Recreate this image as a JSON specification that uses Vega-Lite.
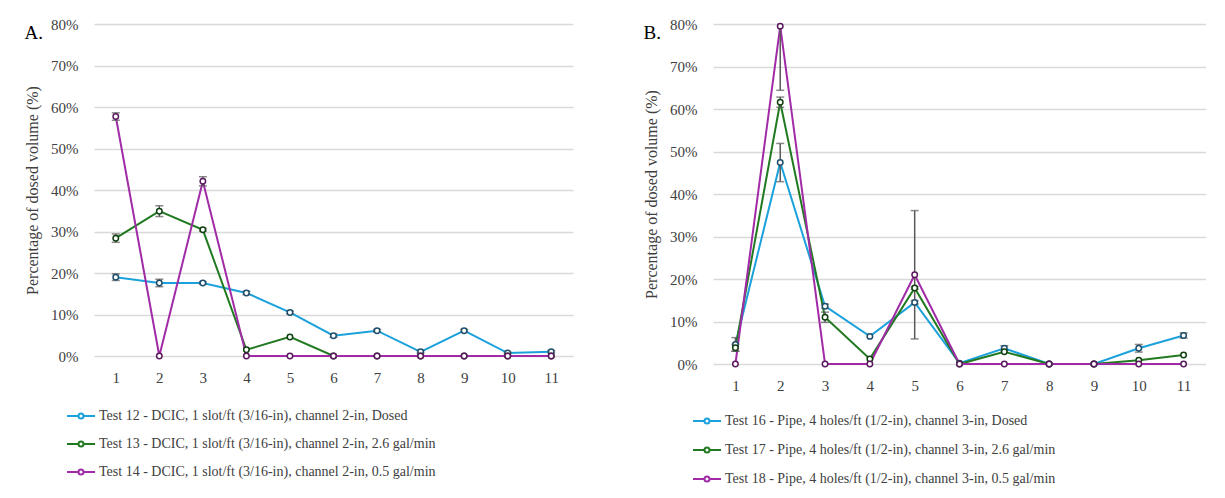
{
  "$schema": "https://vega.github.io/schema/vega-lite/v6.json",
  "background": "white",
  "padding": {"left": 24, "top": 17, "right": 0, "bottom": 0},
  "spacing": 70,
  "config": {
    "font": "Liberation Serif",
    "view": {"stroke": null},
    "axisY": {
      "values": [0, 10, 20, 30, 40, 50, 60, 70, 80],
      "labelExpr": "datum.value + '%'",
      "domain": false,
      "ticks": false,
      "labelPadding": 16,
      "gridColor": "#d9d9d9",
      "gridWidth": 1.5,
      "labelFont": "Liberation Serif",
      "labelFontSize": 15,
      "labelColor": "#404040",
      "titleFont": "Liberation Serif",
      "titleFontSize": 16,
      "titleFontWeight": "normal",
      "titleColor": "#404040",
      "titlePadding": 10
    },
    "axisX": {
      "labelAngle": 0,
      "domain": false,
      "ticks": false,
      "grid": false,
      "labelPadding": 14,
      "labelFont": "Liberation Serif",
      "labelFontSize": 15,
      "labelColor": "#404040"
    },
    "legend": {
      "orient": "none",
      "direction": "vertical",
      "symbolType": "M-1,0H-0.18M0.18,0H1M-0.18,0A0.18,0.18,0,1,1,0.18,0A0.18,0.18,0,1,1,-0.18,0",
      "symbolSize": 784,
      "symbolStrokeWidth": 2,
      "symbolFillColor": "white",
      "labelFont": "Liberation Serif",
      "labelFontSize": 14,
      "labelLimit": 700,
      "labelOffset": 3,
      "labelColor": "#404040",
      "padding": 0
    },
    "title": {"anchor": "start", "frame": "bounds", "font": "Liberation Serif", "fontSize": 19, "fontWeight": "normal", "color": "black", "offset": -26}
  },
  "datasets": {
    "a": [
      {"test": "Test 12 - DCIC, 1 slot/ft (3/16-in), channel 2-in, Dosed", "loc": 1, "v": 19.0, "err": 0.8},
      {"test": "Test 12 - DCIC, 1 slot/ft (3/16-in), channel 2-in, Dosed", "loc": 2, "v": 17.6, "err": 0.9},
      {"test": "Test 12 - DCIC, 1 slot/ft (3/16-in), channel 2-in, Dosed", "loc": 3, "v": 17.6, "err": 0.3},
      {"test": "Test 12 - DCIC, 1 slot/ft (3/16-in), channel 2-in, Dosed", "loc": 4, "v": 15.2, "err": 0.4},
      {"test": "Test 12 - DCIC, 1 slot/ft (3/16-in), channel 2-in, Dosed", "loc": 5, "v": 10.5, "err": 0.3},
      {"test": "Test 12 - DCIC, 1 slot/ft (3/16-in), channel 2-in, Dosed", "loc": 6, "v": 4.9, "err": 0.4},
      {"test": "Test 12 - DCIC, 1 slot/ft (3/16-in), channel 2-in, Dosed", "loc": 7, "v": 6.1, "err": 0.3},
      {"test": "Test 12 - DCIC, 1 slot/ft (3/16-in), channel 2-in, Dosed", "loc": 8, "v": 1.0, "err": 0.3},
      {"test": "Test 12 - DCIC, 1 slot/ft (3/16-in), channel 2-in, Dosed", "loc": 9, "v": 6.1, "err": 0.3},
      {"test": "Test 12 - DCIC, 1 slot/ft (3/16-in), channel 2-in, Dosed", "loc": 10, "v": 0.7, "err": 0.2},
      {"test": "Test 12 - DCIC, 1 slot/ft (3/16-in), channel 2-in, Dosed", "loc": 11, "v": 1.0, "err": 0.3},
      {"test": "Test 13 - DCIC, 1 slot/ft (3/16-in), channel 2-in, 2.6 gal/min", "loc": 1, "v": 28.4, "err": 1.0},
      {"test": "Test 13 - DCIC, 1 slot/ft (3/16-in), channel 2-in, 2.6 gal/min", "loc": 2, "v": 34.9, "err": 1.3},
      {"test": "Test 13 - DCIC, 1 slot/ft (3/16-in), channel 2-in, 2.6 gal/min", "loc": 3, "v": 30.4, "err": 0.3},
      {"test": "Test 13 - DCIC, 1 slot/ft (3/16-in), channel 2-in, 2.6 gal/min", "loc": 4, "v": 1.5, "err": 0},
      {"test": "Test 13 - DCIC, 1 slot/ft (3/16-in), channel 2-in, 2.6 gal/min", "loc": 5, "v": 4.6, "err": 0},
      {"test": "Test 13 - DCIC, 1 slot/ft (3/16-in), channel 2-in, 2.6 gal/min", "loc": 6, "v": 0, "err": 0},
      {"test": "Test 13 - DCIC, 1 slot/ft (3/16-in), channel 2-in, 2.6 gal/min", "loc": 7, "v": 0, "err": 0},
      {"test": "Test 13 - DCIC, 1 slot/ft (3/16-in), channel 2-in, 2.6 gal/min", "loc": 8, "v": 0, "err": 0},
      {"test": "Test 13 - DCIC, 1 slot/ft (3/16-in), channel 2-in, 2.6 gal/min", "loc": 9, "v": 0, "err": 0},
      {"test": "Test 13 - DCIC, 1 slot/ft (3/16-in), channel 2-in, 2.6 gal/min", "loc": 10, "v": 0, "err": 0},
      {"test": "Test 13 - DCIC, 1 slot/ft (3/16-in), channel 2-in, 2.6 gal/min", "loc": 11, "v": 0, "err": 0},
      {"test": "Test 14 - DCIC, 1 slot/ft (3/16-in), channel 2-in, 0.5 gal/min", "loc": 1, "v": 57.7, "err": 0.9},
      {"test": "Test 14 - DCIC, 1 slot/ft (3/16-in), channel 2-in, 0.5 gal/min", "loc": 2, "v": 0, "err": 0},
      {"test": "Test 14 - DCIC, 1 slot/ft (3/16-in), channel 2-in, 0.5 gal/min", "loc": 3, "v": 42.1, "err": 1.1},
      {"test": "Test 14 - DCIC, 1 slot/ft (3/16-in), channel 2-in, 0.5 gal/min", "loc": 4, "v": 0, "err": 0},
      {"test": "Test 14 - DCIC, 1 slot/ft (3/16-in), channel 2-in, 0.5 gal/min", "loc": 5, "v": 0, "err": 0},
      {"test": "Test 14 - DCIC, 1 slot/ft (3/16-in), channel 2-in, 0.5 gal/min", "loc": 6, "v": 0, "err": 0},
      {"test": "Test 14 - DCIC, 1 slot/ft (3/16-in), channel 2-in, 0.5 gal/min", "loc": 7, "v": 0, "err": 0},
      {"test": "Test 14 - DCIC, 1 slot/ft (3/16-in), channel 2-in, 0.5 gal/min", "loc": 8, "v": 0, "err": 0},
      {"test": "Test 14 - DCIC, 1 slot/ft (3/16-in), channel 2-in, 0.5 gal/min", "loc": 9, "v": 0, "err": 0},
      {"test": "Test 14 - DCIC, 1 slot/ft (3/16-in), channel 2-in, 0.5 gal/min", "loc": 10, "v": 0, "err": 0},
      {"test": "Test 14 - DCIC, 1 slot/ft (3/16-in), channel 2-in, 0.5 gal/min", "loc": 11, "v": 0, "err": 0}
    ],
    "b": [
      {"test": "Test 16 - Pipe, 4 holes/ft (1/2-in), channel 3-in, Dosed", "loc": 1, "v": 4.6, "err": 1.6},
      {"test": "Test 16 - Pipe, 4 holes/ft (1/2-in), channel 3-in, Dosed", "loc": 2, "v": 47.4, "err": 4.5},
      {"test": "Test 16 - Pipe, 4 holes/ft (1/2-in), channel 3-in, Dosed", "loc": 3, "v": 13.6, "err": 0.5},
      {"test": "Test 16 - Pipe, 4 holes/ft (1/2-in), channel 3-in, Dosed", "loc": 4, "v": 6.5, "err": 0},
      {"test": "Test 16 - Pipe, 4 holes/ft (1/2-in), channel 3-in, Dosed", "loc": 5, "v": 14.5, "err": 0.4},
      {"test": "Test 16 - Pipe, 4 holes/ft (1/2-in), channel 3-in, Dosed", "loc": 6, "v": 0.2, "err": 0},
      {"test": "Test 16 - Pipe, 4 holes/ft (1/2-in), channel 3-in, Dosed", "loc": 7, "v": 3.7, "err": 0.6},
      {"test": "Test 16 - Pipe, 4 holes/ft (1/2-in), channel 3-in, Dosed", "loc": 8, "v": 0, "err": 0},
      {"test": "Test 16 - Pipe, 4 holes/ft (1/2-in), channel 3-in, Dosed", "loc": 9, "v": 0, "err": 0},
      {"test": "Test 16 - Pipe, 4 holes/ft (1/2-in), channel 3-in, Dosed", "loc": 10, "v": 3.7, "err": 0.9},
      {"test": "Test 16 - Pipe, 4 holes/ft (1/2-in), channel 3-in, Dosed", "loc": 11, "v": 6.7, "err": 0.6},
      {"test": "Test 17 - Pipe, 4 holes/ft (1/2-in), channel 3-in, 2.6 gal/min", "loc": 1, "v": 3.8, "err": 0.8},
      {"test": "Test 17 - Pipe, 4 holes/ft (1/2-in), channel 3-in, 2.6 gal/min", "loc": 2, "v": 61.6, "err": 1.2},
      {"test": "Test 17 - Pipe, 4 holes/ft (1/2-in), channel 3-in, 2.6 gal/min", "loc": 3, "v": 11.0, "err": 1.2},
      {"test": "Test 17 - Pipe, 4 holes/ft (1/2-in), channel 3-in, 2.6 gal/min", "loc": 4, "v": 1.2, "err": 0},
      {"test": "Test 17 - Pipe, 4 holes/ft (1/2-in), channel 3-in, 2.6 gal/min", "loc": 5, "v": 17.9, "err": 0.3},
      {"test": "Test 17 - Pipe, 4 holes/ft (1/2-in), channel 3-in, 2.6 gal/min", "loc": 6, "v": 0, "err": 0},
      {"test": "Test 17 - Pipe, 4 holes/ft (1/2-in), channel 3-in, 2.6 gal/min", "loc": 7, "v": 2.9, "err": 0},
      {"test": "Test 17 - Pipe, 4 holes/ft (1/2-in), channel 3-in, 2.6 gal/min", "loc": 8, "v": 0, "err": 0},
      {"test": "Test 17 - Pipe, 4 holes/ft (1/2-in), channel 3-in, 2.6 gal/min", "loc": 9, "v": 0, "err": 0},
      {"test": "Test 17 - Pipe, 4 holes/ft (1/2-in), channel 3-in, 2.6 gal/min", "loc": 10, "v": 0.9, "err": 0},
      {"test": "Test 17 - Pipe, 4 holes/ft (1/2-in), channel 3-in, 2.6 gal/min", "loc": 11, "v": 2.1, "err": 0},
      {"test": "Test 18 - Pipe, 4 holes/ft (1/2-in), channel 3-in, 0.5 gal/min", "loc": 1, "v": 0, "err": 0},
      {"test": "Test 18 - Pipe, 4 holes/ft (1/2-in), channel 3-in, 0.5 gal/min", "loc": 2, "v": 79.5, "err": 15.1},
      {"test": "Test 18 - Pipe, 4 holes/ft (1/2-in), channel 3-in, 0.5 gal/min", "loc": 3, "v": 0, "err": 0},
      {"test": "Test 18 - Pipe, 4 holes/ft (1/2-in), channel 3-in, 0.5 gal/min", "loc": 4, "v": 0, "err": 0},
      {"test": "Test 18 - Pipe, 4 holes/ft (1/2-in), channel 3-in, 0.5 gal/min", "loc": 5, "v": 21.0, "err": 15.1},
      {"test": "Test 18 - Pipe, 4 holes/ft (1/2-in), channel 3-in, 0.5 gal/min", "loc": 6, "v": 0, "err": 0},
      {"test": "Test 18 - Pipe, 4 holes/ft (1/2-in), channel 3-in, 0.5 gal/min", "loc": 7, "v": 0, "err": 0},
      {"test": "Test 18 - Pipe, 4 holes/ft (1/2-in), channel 3-in, 0.5 gal/min", "loc": 8, "v": 0, "err": 0},
      {"test": "Test 18 - Pipe, 4 holes/ft (1/2-in), channel 3-in, 0.5 gal/min", "loc": 9, "v": 0, "err": 0},
      {"test": "Test 18 - Pipe, 4 holes/ft (1/2-in), channel 3-in, 0.5 gal/min", "loc": 10, "v": 0, "err": 0},
      {"test": "Test 18 - Pipe, 4 holes/ft (1/2-in), channel 3-in, 0.5 gal/min", "loc": 11, "v": 0, "err": 0}
    ]
  },
  "resolve": {
    "scale": {"color": "independent", "stroke": "independent", "x": "independent", "y": "independent"},
    "legend": {"color": "independent"}
  },
  "hconcat": [
    {
      "title": {"text": "A."},
      "width": 479,
      "height": 332,
      "data": {"name": "a"},
      "encoding": {
        "x": {"field": "loc", "type": "ordinal", "scale": {"type": "point", "padding": 0.5}, "axis": {"title": null}},
        "y": {"field": "v", "type": "quantitative", "scale": {"domain": [0, 80]}, "title": "Percentage of dosed volume (%)"}
      },
      "layer": [
        {
          "mark": {"type": "line", "strokeWidth": 2},
          "encoding": {
            "color": {
              "field": "test", "type": "nominal",
              "scale": {
                "domain": ["Test 12 - DCIC, 1 slot/ft (3/16-in), channel 2-in, Dosed", "Test 13 - DCIC, 1 slot/ft (3/16-in), channel 2-in, 2.6 gal/min", "Test 14 - DCIC, 1 slot/ft (3/16-in), channel 2-in, 0.5 gal/min"],
                "range": ["#1ba1db", "#217a21", "#a12ba6"]
              },
              "legend": {"title": null, "legendX": -28, "legendY": 377, "rowPadding": 6}
            }
          }
        },
        {
          "transform": [{"filter": "datum.err > 0"}],
          "mark": {"type": "errorbar", "ticks": {"size": 8}, "color": "#595959", "thickness": 1.5, "clip": true},
          "encoding": {"yError": {"field": "err"}}
        },
        {
          "mark": {"type": "point", "filled": true, "fill": "white", "size": 30, "strokeWidth": 1.5, "opacity": 1},
          "encoding": {
            "stroke": {
              "field": "test", "type": "nominal",
              "scale": {
                "domain": ["Test 12 - DCIC, 1 slot/ft (3/16-in), channel 2-in, Dosed", "Test 13 - DCIC, 1 slot/ft (3/16-in), channel 2-in, 2.6 gal/min", "Test 14 - DCIC, 1 slot/ft (3/16-in), channel 2-in, 0.5 gal/min"],
                "range": ["#1f4e6b", "#0f400f", "#5b1a5e"]
              },
              "legend": null
            }
          }
        }
      ]
    },
    {
      "title": {"text": "B."},
      "width": 493,
      "height": 340,
      "data": {"name": "b"},
      "encoding": {
        "x": {"field": "loc", "type": "ordinal", "scale": {"type": "point", "padding": 0.5}, "axis": {"title": null}},
        "y": {"field": "v", "type": "quantitative", "scale": {"domain": [0, 80]}, "title": "Percentage of dosed volume (%)"}
      },
      "layer": [
        {
          "mark": {"type": "line", "strokeWidth": 2},
          "encoding": {
            "color": {
              "field": "test", "type": "nominal",
              "scale": {
                "domain": ["Test 16 - Pipe, 4 holes/ft (1/2-in), channel 3-in, Dosed", "Test 17 - Pipe, 4 holes/ft (1/2-in), channel 3-in, 2.6 gal/min", "Test 18 - Pipe, 4 holes/ft (1/2-in), channel 3-in, 0.5 gal/min"],
                "range": ["#1ba1db", "#217a21", "#a12ba6"]
              },
              "legend": {"title": null, "legendX": -21, "legendY": 382, "rowPadding": 7}
            }
          }
        },
        {
          "transform": [{"filter": "datum.err > 0"}],
          "mark": {"type": "errorbar", "ticks": {"size": 8}, "color": "#595959", "thickness": 1.5, "clip": true},
          "encoding": {"yError": {"field": "err"}}
        },
        {
          "mark": {"type": "point", "filled": true, "fill": "white", "size": 30, "strokeWidth": 1.5, "opacity": 1},
          "encoding": {
            "stroke": {
              "field": "test", "type": "nominal",
              "scale": {
                "domain": ["Test 16 - Pipe, 4 holes/ft (1/2-in), channel 3-in, Dosed", "Test 17 - Pipe, 4 holes/ft (1/2-in), channel 3-in, 2.6 gal/min", "Test 18 - Pipe, 4 holes/ft (1/2-in), channel 3-in, 0.5 gal/min"],
                "range": ["#1f4e6b", "#0f400f", "#5b1a5e"]
              },
              "legend": null
            }
          }
        }
      ]
    }
  ]
}
